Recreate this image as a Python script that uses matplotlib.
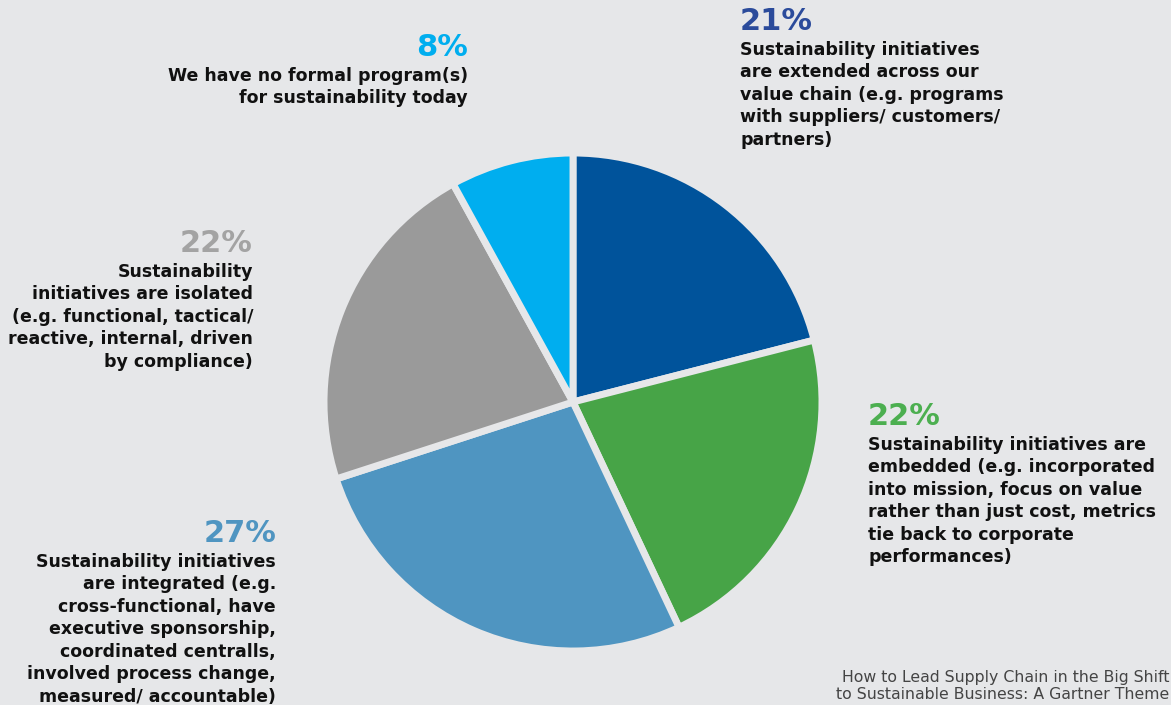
import matplotlib.pyplot as plt

# Shares of respondents, clockwise from 12 o'clock
shares = [21, 22, 27, 22, 8]
slice_colors = ['#00539b', '#47a447', '#4f95c1', '#9a9a9a', '#00aeef']
pct_colors = ['#2b4b9b', '#4caf50', '#4f95c1', '#a3a3a3', '#00aeef']
descriptions = [
    "Sustainability initiatives\nare extended across our\nvalue chain (e.g. programs\nwith suppliers/ customers/\npartners)",
    "Sustainability initiatives are\nembedded (e.g. incorporated\ninto mission, focus on value\nrather than just cost, metrics\ntie back to corporate\nperformances)",
    "Sustainability initiatives\nare integrated (e.g.\ncross-functional, have\nexecutive sponsorship,\ncoordinated centralls,\ninvolved process change,\nmeasured/ accountable)",
    "Sustainability\ninitiatives are isolated\n(e.g. functional, tactical/\nreactive, internal, driven\nby compliance)",
    "We have no formal program(s)\nfor sustainability today",
]
source = "How to Lead Supply Chain in the Big Shift\nto Sustainable Business: A Gartner Theme"

bg = '#e6e7e9'
W, H = 1171, 705

fig = plt.figure(figsize=(W / 100, H / 100), dpi=100)
fig.set_facecolor(bg)
ax = fig.add_axes([0, 0, 1, 1])
ax.set_facecolor(bg)

# Pie drawn in pixel-like coordinates (y measured from the bottom)
ax.pie(shares, colors=slice_colors, startangle=90, counterclock=False,
       center=(573, H - 402), radius=249,
       wedgeprops=dict(edgecolor=bg, linewidth=5))
ax.set_xlim(0, W)
ax.set_ylim(0, H)
ax.set_aspect('equal')
ax.axis('off')

# Label anchors: (x, y of percentage top, alignment)
anchors = [(740, 7, 'left'), (868, 402, 'left'), (276, 519, 'right'),
           (253, 229, 'right'), (468, 33, 'right')]

for (x, y, ha), pct, col, desc in zip(anchors, shares, pct_colors, descriptions):
    ax.text(x, H - y, f"{pct}%", ha=ha, va='top', color=col,
            fontsize=22, fontweight='bold', family='DejaVu Sans')
    ax.text(x, H - y - 34, desc, ha=ha, va='top', color='#111111',
            fontsize=12.5, fontweight='bold', family='DejaVu Sans',
            linespacing=1.32, multialignment=ha)

ax.text(1169, H - 670, source, ha='right', va='top', color='#444444',
        fontsize=11.3, family='DejaVu Sans', linespacing=1.15)

fig.savefig('out.png', dpi=100, facecolor=bg)
